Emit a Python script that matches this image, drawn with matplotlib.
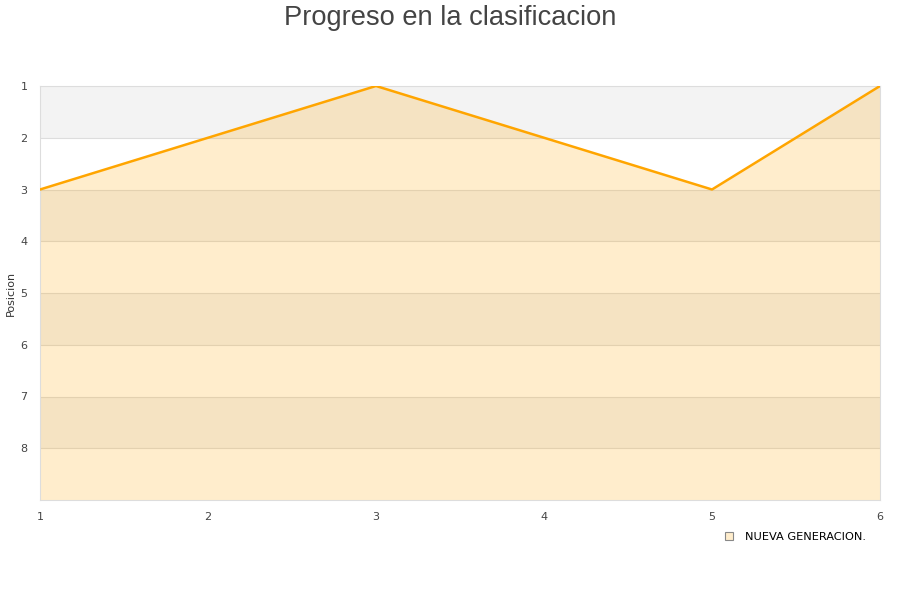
import matplotlib
matplotlib.use("Agg")
import matplotlib.pyplot as plt
from matplotlib.lines import Line2D

jornadas = [1, 2, 3, 4, 5, 6]
posiciones = [3, 2, 1, 2, 3, 1]
y_ticks = [1, 2, 3, 4, 5, 6, 7, 8]
equipo = "NUEVA GENERACION."

fig = plt.figure(figsize=(9, 6), dpi=100)
ax = fig.add_axes([40 / 900, 1 - 500 / 600, 840 / 900, 414 / 600])

# alternating background bands
for lo in range(1, 9, 2):
    ax.axhspan(lo, lo + 1, color="#f3f3f3", zorder=0, lw=0)

for y in range(2, 9):
    ax.axhline(y, color="#dddddd", lw=0.8, zorder=1)

ax.fill_between(jornadas, posiciones, 9, color="orange", alpha=0.2, lw=0, zorder=2)
ax.plot(jornadas, posiciones, color="orange", lw=1.8, zorder=3)

ax.set_xlim(1, 6)
ax.set_ylim(9, 1)
ax.set_xticks(jornadas)
ax.set_yticks(y_ticks)
ax.tick_params(length=0, labelsize=8, colors="#444444", pad=9)
for s in ax.spines.values():
    s.set_color("#dddddd")
fig.text(11 / 900, 1 - 293 / 600, "Posicion", fontsize=8, color="#333333",
         rotation=90, ha="center", va="center")

fig.suptitle("Progreso en la clasificacion", fontsize=19.6, color="#444444",
             family="Liberation Sans", y=0.991)

handle = Line2D([], [], marker="s", ls="none", markersize=6,
                markerfacecolor="#ffedcc", markeredgecolor="#888888", markeredgewidth=0.8)
fig.legend([handle], [equipo], loc="upper right",
           bbox_to_anchor=(0.967, 1 - 527 / 600),
           frameon=False, fontsize=8.2, handletextpad=0.4, borderaxespad=0)

fig.savefig("out.png", dpi=100)
